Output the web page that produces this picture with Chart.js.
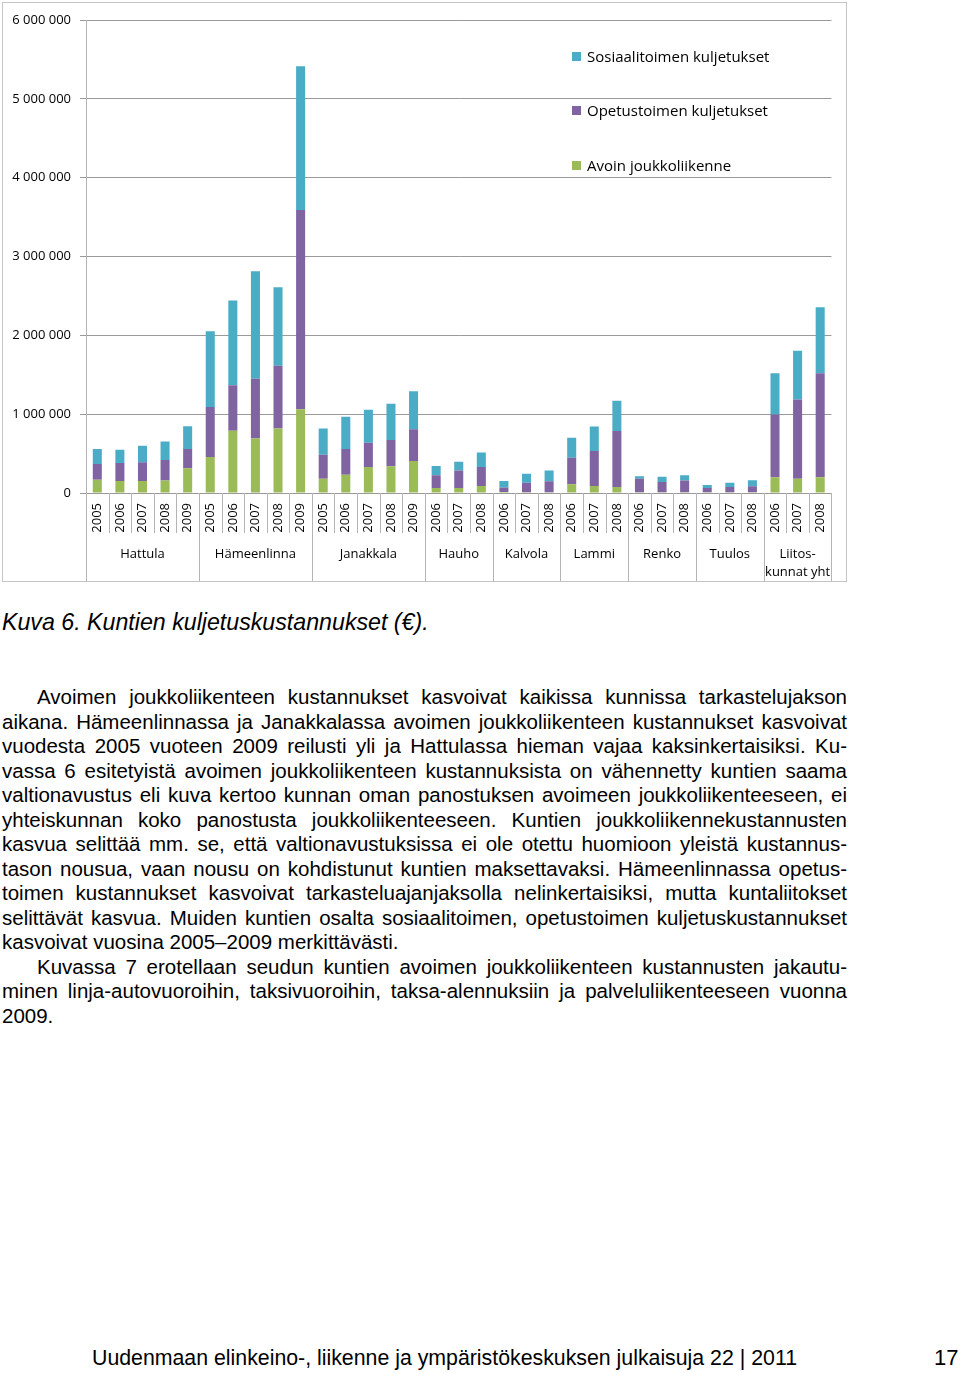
<!DOCTYPE html>
<html>
<head>
<meta charset="utf-8">
<script src="https://cdn.jsdelivr.net/npm/chart.js@4/dist/chart.umd.min.js"></script>
<style>
  html, body { margin: 0; padding: 0; background: #fff; }
  body { width: 960px; height: 1373px; position: relative; overflow: hidden; font-family: "Liberation Sans", Arial, sans-serif; color: #000; }
  #box { position: absolute; left: 2px; top: 2px; width: 845px; height: 580px; border: 1px solid #c4c4c4; box-sizing: border-box; }
  #wrap { position: absolute; left: 0; top: 0; width: 843px; height: 578px; }
  #legend { position: absolute; left: 0; top: 0; font-family: "Open Sans", sans-serif; font-size: 15px; color: #000; }
  .lg { position: absolute; white-space: nowrap; height: 18px; line-height: 18px; }
  .lg i { position: absolute; left: 0; top: 5px; width: 9px; height: 9px; }
  .lg span { position: absolute; left: 15px; top: 0; }
  #caption { position: absolute; left: 2px; top: 608px; font-style: italic; font-size: 23.2px; line-height: 28px; white-space: nowrap; }
  #text { position: absolute; left: 2px; top: 685px; width: 845px; font-size: 20.5px; line-height: 24.54px; }
  .ln { text-align: justify; text-align-last: justify; white-space: nowrap; height: 24.54px; }
  .ln.last { text-align: left; text-align-last: left; }
  .ln.ind { padding-left: 35px; }
  #footer { position: absolute; left: 92px; top: 1345px; font-family: "Liberation Sans Narrow", "Liberation Sans", sans-serif; font-size: 22px; line-height: 26px; white-space: nowrap; transform-origin: 0 0; }
  #page { position: absolute; left: 934px; top: 1345px; font-family: "Liberation Sans Narrow", "Liberation Sans", sans-serif; font-size: 22px; line-height: 26px; }
</style>
</head>
<body>
<div id="box"><div id="wrap"><canvas id="c" width="843" height="578"></canvas></div></div>
<div id="legend"></div>
<div id="caption">Kuva 6. Kuntien kuljetuskustannukset (€).</div>
<div id="text">
  <div class="ln ind">Avoimen joukkoliikenteen kustannukset kasvoivat kaikissa kunnissa tarkastelujakson</div>
  <div class="ln">aikana. Hämeenlinnassa ja Janakkalassa avoimen joukkoliikenteen kustannukset kasvoivat</div>
  <div class="ln">vuodesta 2005 vuoteen 2009 reilusti yli ja Hattulassa hieman vajaa kaksinkertaisiksi. Ku-</div>
  <div class="ln">vassa 6 esitetyistä avoimen joukkoliikenteen kustannuksista on vähennetty kuntien saama</div>
  <div class="ln">valtionavustus eli kuva kertoo kunnan oman panostuksen avoimeen joukkoliikenteeseen, ei</div>
  <div class="ln">yhteiskunnan koko panostusta joukkoliikenteeseen. Kuntien joukkoliikennekustannusten</div>
  <div class="ln">kasvua selittää mm. se, että valtionavustuksissa ei ole otettu huomioon yleistä kustannus-</div>
  <div class="ln">tason nousua, vaan nousu on kohdistunut kuntien maksettavaksi. Hämeenlinnassa opetus-</div>
  <div class="ln">toimen kustannukset kasvoivat tarkasteluajanjaksolla nelinkertaisiksi, mutta kuntaliitokset</div>
  <div class="ln">selittävät kasvua. Muiden kuntien osalta sosiaalitoimen, opetustoimen kuljetuskustannukset</div>
  <div class="ln last">kasvoivat vuosina 2005–2009 merkittävästi.</div>
  <div class="ln ind">Kuvassa 7 erotellaan seudun kuntien avoimen joukkoliikenteen kustannusten jakautu-</div>
  <div class="ln">minen linja-autovuoroihin, taksivuoroihin, taksa-alennuksiin ja palveluliikenteeseen vuonna</div>
  <div class="ln last">2009.</div>
</div>
<div id="footer">Uudenmaan elinkeino-, liikenne ja ympäristökeskuksen julkaisuja 22 | 2011</div>
<div id="page">17</div>
<script>
// ---- data ----
const years = [
  '2005','2006','2007','2008','2009',
  '2005','2006','2007','2008','2009',
  '2005','2006','2007','2008','2009',
  '2006','2007','2008',
  '2006','2007','2008',
  '2006','2007','2008',
  '2006','2007','2008',
  '2006','2007','2008',
  '2006','2007','2008'
];
const groupNames = [['Hattula'], ['Hämeenlinna'], ['Janakkala'], ['Hauho'], ['Kalvola'], ['Lammi'], ['Renko'], ['Tuulos'], ['Liitos-', 'kunnat yht']];
const groupSizes = [5, 5, 5, 3, 3, 3, 3, 3, 3];
const avoin = [
  167000, 152000, 152000, 157000, 314000,
  457000, 790000, 695000, 819000, 1062000,
  181000, 233000, 329000, 338000, 405000,
  62000, 62000, 90000,
  14000, 10000, 10000,
  110000, 90000, 76000,
  10000, 8000, 10000,
  8000, 8000, 8000,
  200000, 181000, 200000
];
const opetus = [
  200000, 229000, 238000, 262000, 243000,
  633000, 577000, 753000, 795000, 2528000,
  305000, 324000, 309000, 333000, 405000,
  162000, 224000, 239000,
  57000, 119000, 138000,
  338000, 443000, 710000,
  171000, 130000, 147000,
  54000, 68000, 78000,
  795000, 1005000, 1319000
];
const sosiaali = [
  190000, 167000, 210000, 233000, 291000,
  962000, 1076000, 1366000, 996000, 1824000,
  333000, 410000, 419000, 462000, 480000,
  119000, 109000, 185000,
  81000, 114000, 138000,
  252000, 310000, 385000,
  33000, 67000, 67000,
  38000, 53000, 76000,
  524000, 619000, 838000
];
const seriesNames = ['Avoin joukkoliikenne', 'Opetustoimen kuljetukset', 'Sosiaalitoimen kuljetukset'];
const seriesColors = ['#9BBB59', '#8064A2', '#4BACC6'];
const yTicks = [0, 1000000, 2000000, 3000000, 4000000, 5000000, 6000000];

const FONT = '"Open Sans", sans-serif';
const GRID = '#9a9a9a';
const SEP = '#b4b4b4';

function fmt(v) { return String(v).replace(/\B(?=(\d{3})+(?!\d))/g, ' '); }

const groupPlugin = {
  id: 'groups',
  afterDraw(chart) {
    const ctx = chart.ctx;
    const xs = chart.scales.x;
    const ca = chart.chartArea;
    const n = years.length;
    const w = (xs.right - xs.left) / n;
    const bottom = chart.height;
    ctx.save();
    ctx.strokeStyle = SEP;
    ctx.lineWidth = 1;
    const groupEdges = new Set([0]);
    let acc = 0;
    groupSizes.forEach(s => { acc += s; groupEdges.add(acc); });
    for (let i = 0; i <= n; i++) {
      const px = Math.round(xs.getPixelForValue(Math.min(i, n - 1)) + (i === n ? w / 2 : -w / 2)) + 0.5;
      const yEnd = groupEdges.has(i) ? bottom : ca.bottom + 40;
      ctx.beginPath();
      ctx.moveTo(px, ca.bottom);
      ctx.lineTo(px, yEnd);
      ctx.stroke();
    }
    ctx.fillStyle = '#000';
    ctx.font = '13px ' + FONT;
    ctx.textAlign = 'center';
    ctx.textBaseline = 'middle';
    let start = 0;
    groupSizes.forEach((s, gi) => {
      const x0 = xs.getPixelForValue(start) - w / 2;
      const x1 = xs.getPixelForValue(start + s - 1) + w / 2;
      const cx = (x0 + x1) / 2;
      groupNames[gi].forEach((t, li) => ctx.fillText(t, cx, ca.bottom + 61 + li * 18));
      start += s;
    });
    ctx.restore();
  }
};

const ctx = document.getElementById('c').getContext('2d');
const chart = new Chart(ctx, {
  type: 'bar',
  data: {
    labels: years,
    datasets: [avoin, opetus, sosiaali].map((d, i) => ({
      label: seriesNames[i],
      data: d,
      backgroundColor: seriesColors[i],
      borderWidth: 0,
      barPercentage: 0.8,
      categoryPercentage: 0.5
    }))
  },
  options: {
    responsive: false,
    animation: false,
    devicePixelRatio: 1,
    layout: { padding: { left: 0, right: 14, top: 17, bottom: 0 } },
    plugins: { legend: { display: false }, tooltip: { enabled: false } },
    scales: {
      x: {
        stacked: true,
        grid: { display: false, drawTicks: false },
        border: { display: false },
        ticks: {
          minRotation: 90, maxRotation: 90, autoSkip: false,
          padding: 10, color: '#000', font: { family: FONT, size: 13 }
        },
        afterFit(s) { s.height = 88; }
      },
      y: {
        stacked: true,
        min: 0, max: 6000000,
        afterBuildTicks(s) { s.ticks = yTicks.map(v => ({ value: v })); },
        grid: { color: GRID, tickLength: 6, drawTicks: true },
        border: { display: true, color: SEP },
        ticks: {
          padding: 9, color: '#000', font: { family: FONT, size: 13 },
          callback: v => fmt(v)
        },
        afterFit(s) { s.width = 83; }
      }
    }
  },
  plugins: [groupPlugin]
});

const lg = document.getElementById('legend');
const legendTops = [47, 101, 156];
chart.data.datasets.slice().reverse().forEach((ds, i) => {
  const d = document.createElement('div');
  d.className = 'lg';
  d.style.left = '572px';
  d.style.top = legendTops[i] + 'px';
  d.innerHTML = '<i style="background:' + ds.backgroundColor + '"></i><span></span>';
  d.querySelector('span').textContent = ds.label;
  lg.appendChild(d);
});

const f = document.getElementById('footer');
const fw = f.getBoundingClientRect().width;
f.style.transform = 'scaleX(' + (705 / fw) + ')';
</script>
</body>
</html>
